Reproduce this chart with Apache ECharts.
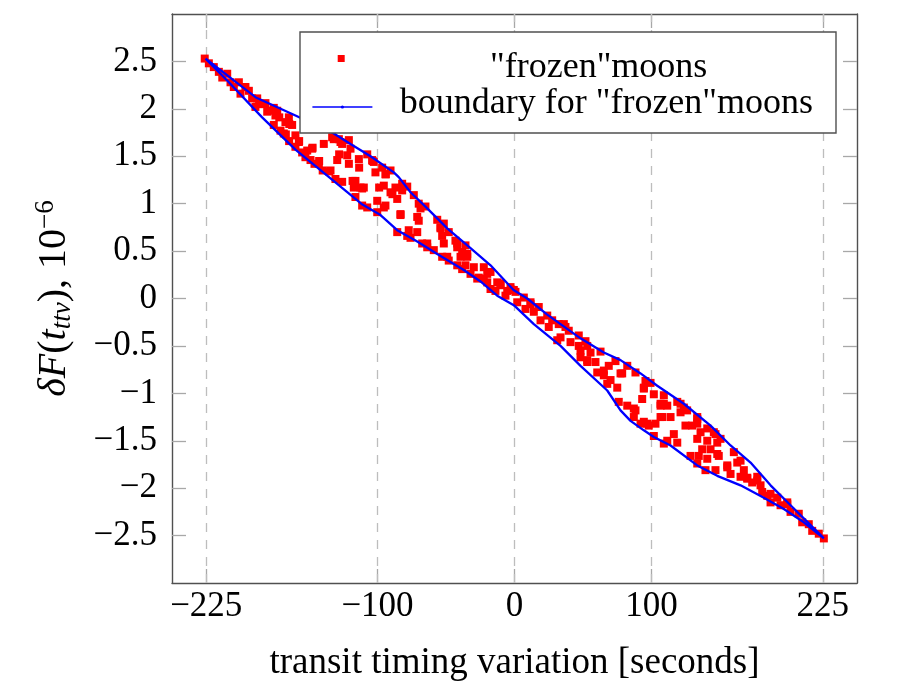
<!DOCTYPE html>
<html>
<head>
<meta charset="utf-8">
<script src="https://cdn.jsdelivr.net/npm/echarts@6/dist/echarts.min.js"></script>
<style>html,body{margin:0;padding:0;background:#fff}#c{width:913px;height:688px}</style>
</head>
<body>
<div id="c"></div>
<script>
// ---- data ----
const xTicks = [-225, -100, 0, 100, 225];
const yTicks = [-2.5, -2, -1.5, -1, -0.5, 0, 0.5, 1, 1.5, 2, 2.5];

const frozenName = '"frozen"moons';
const boundaryName = 'boundary for "frozen"moons';

// "frozen" moons: [transit timing variation, deltaF]
const frozenMoons = [
  [-226.1,2.53],[-223.1,2.48],[-219.5,2.44],[-215.8,2.39],[-213.3,2.33],[-209.7,2.37],[-207.3,2.28],
  [-204.9,2.23],[-201.2,2.28],[-200,2.16],[-196.4,2.23],[-193.9,2.19],[-191.5,2.11],[-189.1,2.02],
  [-187.8,2.11],[-184.2,2.05],[-181.8,2.06],[-180.5,1.97],[-175.7,2.01],[-174.5,1.93],[-173.2,1.98],
  [-175.7,1.83],[-170.8,1.77],[-167.2,1.86],[-164.7,1.91],[-162.3,1.83],[-159.9,1.72],[-157.4,1.65],
  [-159.9,1.60],[-155,1.54],[-147.7,1.58],[-148.9,1.46],[-142.8,1.42],[-139.2,1.63],[-133.1,1.70],
  [-129.4,1.46],[-134.3,1.35],[-128.2,1.68],[-125.8,1.63],[-122.1,1.51],[-120.9,1.42],[-119.7,1.58],
  [-113.6,1.47],[-130.7,1.26],[-116.1,1.24],[-117.3,1.17],[-111.2,1.16],[-116.1,1.07],[-111.2,0.98],
  [-131.9,1.68],[-127,1.65],[-120.9,1.67],[-107.5,1.52],[-103.9,1.46],[-101.5,1.33],[-96.6,1.38],
  [-94.2,1.31],[-90.5,1.35],[-95.4,1.19],[-110,1.17],[-107.5,0.96],[-100.2,0.91],[-94.2,0.98],
  [-90.5,1.12],[-86.9,1.17],[-85.6,1.05],[-82,1.14],[-83.2,0.88],[-78.3,1.18],[-73.5,1.09],
  [-69.9,1.00],[-68.6,0.95],[-65,0.97],[-69.9,0.82],[-77.2,0.72],[-71,0.70],[-75.9,0.64],
  [-67.4,0.58],[-56.4,0.83],[-54,0.74],[-51.6,0.79],[-52.8,0.66],[-51.6,0.58],[-48,0.70],
  [-43.1,0.61],[-41.8,0.54],[-52.8,0.44],[-48,0.40],[-38.2,0.49],[-35.8,0.56],[-34.5,0.44],
  [-35.8,0.35],[-38.2,0.31],[-32.1,0.26],[-26.1,0.22],[-22.4,0.33],[-17.5,0.28],[-12.6,0.17],
  [-19.9,0.17],[-13.9,0.08],[-63.7,0.58],[-58.9,0.51],[-22.4,0.21],[-17.5,0.10],[-10.2,0.14],
  [-6.6,0.03],[-2.9,0.12],[0.7,0.07],[2,-0.04],[6.8,0.01],[8,-0.11],[11.7,-0.04],[14.1,-0.14],
  [17.7,-0.09],[19,-0.23],[23.9,-0.18],[25,-0.30],[27.5,-0.23],[32.3,-0.27],[33.6,-0.41],
  [37.2,-0.30],[39.6,-0.34],[40.9,-0.46],[46.9,-0.39],[46.9,-0.50],[51.8,-0.45],[48.2,-0.62],
  [53.1,-0.67],[55.5,-0.57],[59.1,-0.67],[62.8,-0.56],[60.4,-0.78],[65.2,-0.81],[68.8,-0.71],
  [67.7,-0.90],[73.7,-0.66],[78.6,-0.79],[75,-0.94],[76.1,-1.09],[82.3,-1.13],[87.1,-1.16],
  [93.2,-1.06],[94.4,-0.95],[95.6,-0.87],[88.3,-0.78],[82.3,-0.71],[87.1,-1.25],[94.4,-1.30],
  [53.1,-0.50],[88.3,-1.18],[92,-1.32],[98,-1.34],[102.9,-1.32],[107.8,-1.25],[109,-1.02],
  [106.6,-1.13],[111.5,-1.13],[118.8,-1.09],[123.6,-1.15],[121.2,-1.20],[116.3,-1.43],[111.5,-1.50],
  [109,-1.53],[101.7,-1.45],[118.8,-1.52],[124.8,-1.34],[129.7,-1.34],[133.4,-1.27],[135.8,-1.41],
  [140.7,-1.37],[133.4,-1.48],[137,-1.59],[134.5,-1.66],[133.4,-1.74],[140.7,-1.69],[143.1,-1.59],
  [148,-1.52],[146.7,-1.43],[149.1,-1.66],[139.4,-1.81],[146.7,-1.81],[155.3,-1.76],[157.7,-1.85],
  [160.1,-1.62],[162.6,-1.73],[167.4,-1.81],[165,-1.88],[169.9,-1.90],[173.5,-1.94],[177.2,-1.88],
  [179.6,-1.97],[180.8,-2.04],[184.5,-2.08],[186.9,-2.15],[191.8,-2.10],[194.2,-2.18],[199.1,-2.15],
  [201.5,-2.25],[207.5,-2.27],[210,-2.36],[214.8,-2.38],[217.3,-2.45],[222.1,-2.48],[225.8,-2.53],
  [128.5,-1.66],[-85.6,0.70],[-78.3,0.66],[-63.7,0.54],[-49.1,0.44],[-41.8,0.35],[-27.2,0.21],
  [-168.4,1.74],[-152.6,1.49],[-125.8,1.23],[-102.7,1.44],[-82,1.21],[99.3,-0.89],[121.2,-1.11],
  [133.4,-1.25],[145.5,-1.41],[150.4,-1.48],[-164.5,1.66],[-146,1.42],[-140,1.35],
  [96.9,-1.32],[106.6,-1.25],[109,-1.11],[101.7,-1.01],[94.4,-0.94],[11.7,-0.06],[36,-0.27],
  [31.2,-0.44],[48.2,-0.55],[53.1,-0.65],[65.2,-0.76],[70.1,-0.86],[77.4,-0.79],[-151.3,1.56],
  [-112.4,1.17],[-100.2,1.03],[-95.4,0.96],[-83.2,0.89],[-71,0.86],[-54,0.75],[-41.8,0.58],
  [-39.4,0.44],[-34.5,0.47],[-29.7,0.33],[-19.9,0.26],[-10.2,0.16],[-5.3,0.08],[-0.5,0.09],
  [-186.4,2.05],[-179,1.98],[-171.7,1.91],[-164.4,1.84],[-166.9,1.73],[-157.2,1.66],[-147.4,1.59],
  [-142.6,1.45],[-135.3,1.34],[-128,1.52],[-118.2,1.24],[-113.4,1.38],[-103.6,1.45],[-93.9,1.31],
  [-98.8,1.17],[-89.1,1.10],[106.6,-1.11],[113.9,-1.25],[126,-1.18],[133.4,-1.32],[140.7,-1.50],
  [148,-1.64],[155.3,-1.78],[165,-1.71],[169.9,-1.89],[177.2,-1.92],[186.9,-2.06],[199.1,-2.17]
];

// boundary: upper branch (left to right) and lower branch (right to left)
const upperX = [-225.5,-188.8,-159.9,-131.9,-119.7,-105.1,-88.1,-84.5,-75.9,-63.7,-49.1,-32.1,-17.5,-0.7,9.3,23.9,48.2,65.2,77.4,92,104.2,123.6,143.1,157.7,172.3,186.9,201.5,216.1,225.8];
const upperY = [2.53,2.12,1.93,1.74,1.63,1.50,1.33,1.28,1.12,0.95,0.74,0.53,0.35,0.09,0.0,-0.17,-0.42,-0.57,-0.65,-0.79,-0.92,-1.11,-1.34,-1.55,-1.73,-1.97,-2.18,-2.39,-2.53];
const lowerX = [225.8,211.2,196.6,182,165,148,133.4,113.9,101.7,94.4,84.7,77.4,67.7,48.2,33.6,14.1,-0.5,-12.6,-24.8,-37,-56.4,-71,-85.6,-97.8,-111,-134.5,-159.9,-184.2,-208.5,-225.5];
const lowerY = [-2.53,-2.36,-2.22,-2.10,-1.97,-1.87,-1.76,-1.55,-1.46,-1.39,-1.29,-1.18,-0.97,-0.71,-0.50,-0.27,-0.07,0.03,0.18,0.30,0.47,0.60,0.72,0.88,0.99,1.27,1.57,1.91,2.28,2.53];

// ---- chart ----
const boundary = upperX.map((x, i) => [x, upperY[i]])
  .concat(lowerX.map((x, i) => [x, lowerY[i]]));

const FONT = 'Liberation Serif';
const minus = v => (v < 0 ? '\u2212' + Math.abs(v) : String(v));

const frameLine = { show: true, onZero: false, lineStyle: { color: '#505050', width: 1.4 } };
const tickStyle = { lineStyle: { color: '#a8a8a8', width: 1.3 } };

const chart = echarts.init(document.getElementById('c'));
chart.setOption({
  animation: false,
  backgroundColor: '#fff',
  grid: { left: 172, right: 56, top: 14, bottom: 105, containLabel: false },
  xAxis: [
    {
      type: 'value', min: -250, max: 250, position: 'bottom',
      axisLine: frameLine,
      axisTick: Object.assign({ show: true, inside: true, length: 14, customValues: xTicks }, tickStyle),
      axisLabel: { customValues: xTicks, formatter: minus, margin: 6, color: '#000', fontFamily: FONT, fontSize: 35 },
      splitLine: { show: false },
      name: 'transit timing variation [seconds]', nameLocation: 'middle', nameGap: 62,
      nameTextStyle: { color: '#000', fontFamily: FONT, fontSize: 37 }
    },
    {
      type: 'value', min: -250, max: 250, position: 'top',
      axisLine: frameLine,
      axisTick: Object.assign({ show: true, inside: true, length: 14, customValues: xTicks }, tickStyle),
      axisLabel: { show: false },
      splitLine: { show: false }
    }
  ],
  yAxis: [
    {
      type: 'value', min: -3, max: 3, position: 'left',
      axisLine: frameLine,
      axisTick: Object.assign({ show: true, inside: true, length: 14, customValues: yTicks }, tickStyle),
      axisLabel: { customValues: yTicks, formatter: minus, margin: 15, color: '#000', fontFamily: FONT, fontSize: 35 },
      splitLine: { show: false },
      name: '{i|\u03b4F}{r|(}{i|t}{s|ttv}{r|), 10}{p|\u22126}',
      nameLocation: 'middle', nameRotate: 90, nameGap: 96,
      nameTextStyle: {
        color: '#000', fontFamily: FONT, fontSize: 40,
        rich: {
          r: { fontFamily: FONT, fontSize: 40, lineHeight: 44, color: '#000' },
          i: { fontFamily: FONT, fontSize: 40, fontStyle: 'italic', lineHeight: 44, color: '#000' },
          s: { fontFamily: FONT, fontSize: 27, fontStyle: 'italic', lineHeight: 28, verticalAlign: 'bottom', color: '#000' },
          p: { fontFamily: FONT, fontSize: 27, lineHeight: 9, verticalAlign: 'top', color: '#000' }
        }
      }
    },
    {
      type: 'value', min: -3, max: 3, position: 'right',
      axisLine: frameLine,
      axisTick: Object.assign({ show: true, inside: true, length: 14, customValues: yTicks }, tickStyle),
      axisLabel: { show: false },
      splitLine: { show: false }
    }
  ],
  legend: [
    {
      data: [{ name: frozenName, icon: 'rect' }],
      left: 337.7, top: 49.5, padding: 0, itemWidth: 7, itemHeight: 7,
      selectedMode: false, z: 20,
      formatter: '{c|{name}}',
      textStyle: {
        color: '#000', fontFamily: FONT, fontSize: 36,
        rich: { c: { width: 498, align: 'center', fontFamily: FONT, fontSize: 36, color: '#000', padding: [18, 0, 0, 0] } }
      }
    },
    {
      data: [boundaryName],
      left: 311.7, top: 86, padding: 0, itemWidth: 60, itemHeight: 4,
      selectedMode: false, z: 20,
      lineStyle: { width: 1.4 },
      formatter: '{c|{name}}',
      textStyle: {
        color: '#000', fontFamily: FONT, fontSize: 36,
        rich: { c: { width: 458, align: 'center', fontFamily: FONT, fontSize: 36, color: '#000', padding: [0, 0, 6, 0] } }
      }
    }
  ],
  graphic: [
    {
      type: 'rect', z: 10, silent: true,
      shape: { x: 300, y: 32, width: 536, height: 101 },
      style: { fill: '#fff', stroke: '#505050', lineWidth: 1.4 }
    }
  ],
  series: [
    {
      type: 'line', name: 'grid', data: [], silent: true, z: 1,
      markLine: {
        silent: true, z: 1, symbol: 'none', animation: false,
        label: { show: false },
        lineStyle: { type: [9, 8], color: '#bdbdbd', width: 1.3 },
        data: xTicks.map(v => ({ xAxis: v }))
      }
    },
    {
      type: 'scatter', name: frozenName, data: frozenMoons,
      symbol: 'rect', symbolSize: 8, z: 2,
      itemStyle: { color: '#ff0000', opacity: 1 }
    },
    {
      type: 'line', name: boundaryName, data: boundary,
      symbol: 'circle', symbolSize: 3, showSymbol: false, z: 3,
      itemStyle: { color: '#0000ff' },
      lineStyle: { color: '#0000ff', width: 2.3 }
    }
  ]
});
</script>
</body>
</html>
